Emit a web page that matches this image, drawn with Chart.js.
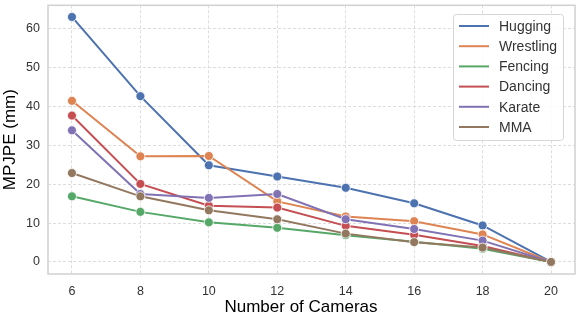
<!DOCTYPE html>
<html>
<head>
<meta charset="utf-8">
<script src="https://cdn.jsdelivr.net/npm/chart.js@4"></script>
<style>
  html, body { margin: 0; padding: 0; background: #fff; }
  #wrap { width: 581px; height: 318px; }
</style>
</head>
<body>
<div id="wrap"><canvas id="lineChart" width="581" height="318"></canvas></div>
<script>
// datos del gráfico
const cameras = [6, 8, 10, 12, 14, 16, 18, 20];
const xTicks = [6, 8, 10, 12, 14, 16, 18, 20];
const yTicks = [0, 10, 20, 30, 40, 50, 60];
const names = ['Hugging', 'Wrestling', 'Fencing', 'Dancing', 'Karate', 'MMA'];
const hugging   = [63.1, 42.7, 24.9, 22.0, 19.1, 15.1, 9.4, 0];
const wrestling = [41.5, 27.2, 27.3, 15.6, 11.7, 10.5, 7.1, 0];
const fencing   = [16.9, 12.9, 10.2, 8.8, 6.9, 5.2, 3.4, 0];
const dancing   = [37.7, 20.1, 14.5, 14.0, 9.3, 7.0, 4.1, 0];
const karate    = [33.9, 17.5, 16.5, 17.5, 11.0, 8.5, 5.5, 0];
const mma       = [22.9, 16.9, 13.3, 11.0, 7.3, 5.1, 3.7, 0];
const series = [hugging, wrestling, fencing, dancing, karate, mma];
const colors = ['#4C72B0', '#DD8452', '#55A868', '#C44E52', '#8172B3', '#937860'];
const xTitle = 'Number of Cameras';

const FONT = '"Liberation Sans", Arial, sans-serif';
const TEXT = '#333333';

// marco, título X y leyenda dibujados a mano
const framePlugin = {
    id: 'frame',
    beforeDatasetsDraw(chart) {
        const a = chart.chartArea, ctx = chart.ctx;
        ctx.save();
        ctx.strokeStyle = '#d0d0d0';
        ctx.lineWidth = 1.5;
        ctx.strokeRect(a.left, a.top, a.right - a.left, a.bottom - a.top);
        ctx.restore();
    },
    afterDraw(chart) {
        const ctx = chart.ctx;
        ctx.save();
        ctx.font = '17px ' + FONT;
        ctx.fillStyle = '#000';
        ctx.textAlign = 'center';
        ctx.textBaseline = 'middle';
        ctx.fillText(xTitle, 301, 307);
        ctx.restore();

        const x0 = 453, y0 = 14, w = 110, h = 126;
        ctx.save();
        ctx.fillStyle = 'rgba(255,255,255,0.85)';
        ctx.strokeStyle = '#d6d6d6';
        ctx.lineWidth = 1;
        ctx.beginPath();
        ctx.roundRect(x0 + 0.5, y0 + 0.5, w, h, 3);
        ctx.fill();
        ctx.stroke();
        ctx.font = '14px ' + FONT;
        ctx.textBaseline = 'middle';
        names.forEach((n, i) => {
            const yy = y0 + 12 + i * 20.2;
            ctx.strokeStyle = colors[i];
            ctx.lineWidth = 2;
            ctx.beginPath();
            ctx.moveTo(x0 + 6, yy);
            ctx.lineTo(x0 + 36, yy);
            ctx.stroke();
            ctx.fillStyle = TEXT;
            ctx.fillText(n, x0 + 46, yy + 1);
        });
        ctx.restore();
    }
};

const ctx = document.getElementById('lineChart').getContext('2d');
const chart = new Chart(ctx, {
    type: 'line',
    data: {
        datasets: series.map((s, i) => ({
            label: names[i],
            data: cameras.map((c, j) => ({ x: c, y: s[j] })),
            borderColor: colors[i],
            backgroundColor: colors[i],
            pointBackgroundColor: colors[i],
            pointBorderColor: '#ffffff',
            pointBorderWidth: 0.8,
            pointRadius: 4.5,
            borderWidth: 2,
            tension: 0,
            order: 5 - i
        }))
    },
    options: {
        responsive: false,
        animation: false,
        devicePixelRatio: 1,
        layout: { padding: { top: 3, right: 6, left: 0, bottom: 0 } },
        plugins: {
            legend: { display: false },
            tooltip: { enabled: false }
        },
        scales: {
            x: {
                type: 'linear',
                min: 5.3,
                max: 20.7,
                afterBuildTicks: (s) => { s.ticks = xTicks.map(v => ({ value: v })); },
                afterFit: (s) => { s.height = 44; s.paddingLeft = 0; s.paddingRight = 0; },
                grid: { color: '#dddddd', lineWidth: 1, drawTicks: false },
                border: { display: false, dash: [3, 2] },
                ticks: { color: TEXT, font: { size: 12.5, family: FONT }, padding: 10 },
                title: { display: false }
            },
            y: {
                min: -3.1,
                max: 66.1,
                afterBuildTicks: (s) => { s.ticks = yTicks.map(v => ({ value: v })); },
                afterFit: (s) => { s.width = 48; s.paddingTop = 0; s.paddingBottom = 0; },
                grid: { color: '#dddddd', lineWidth: 1, drawTicks: false },
                border: { display: false, dash: [3, 2] },
                ticks: { color: TEXT, font: { size: 12.5, family: FONT }, padding: 8 },
                title: { display: true, text: 'MPJPE (mm)', color: '#000', font: { size: 17, family: FONT }, padding: { top: 0, bottom: 2 } }
            }
        }
    },
    plugins: [framePlugin]
});
</script>
</body>
</html>
